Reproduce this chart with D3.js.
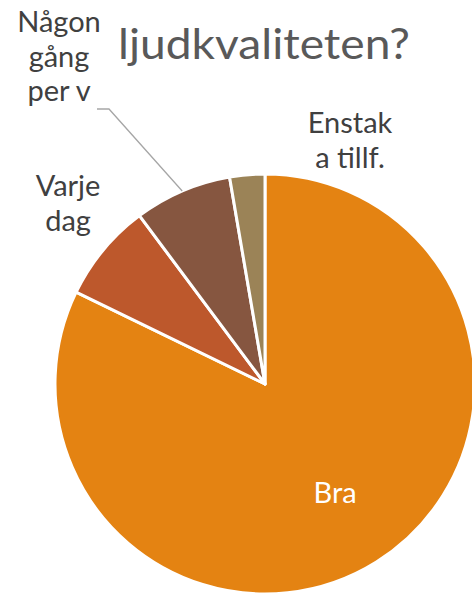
<!DOCTYPE html>
<html>
<head>
<meta charset="utf-8">
<script src="https://cdn.jsdelivr.net/npm/d3@7"></script>
<style>
  html, body { margin: 0; padding: 0; background: #fff; }
  svg { display: block; }
</style>
</head>
<body>
<svg id="chart" width="472" height="596"></svg>
<script>
// ---- data ----
const categories = ["Bra", "Varje dag", "Någon gång per v", "Enstaka a tillf."];
const values = [82.2, 7.6, 7.5, 2.7];
const labelLines = [["Bra"], ["Varje", "dag"], ["Någon", "gång", "per v"], ["Enstak", "a tillf."]];
const colors = ["#E48312", "#BD582C", "#865640", "#9B8357"];
const titleText = "ljudkvaliteten?";

// ---- layout ----
const W = 472, H = 596;
const cx = 265, cy = 384, R = 210;
const font = "Lato, 'Open Sans', sans-serif";
const fontSize = 29;
const lineH = 34.5;

const svg = d3.select("#chart");

// title
svg.append("text")
  .attr("x", 118).attr("y", 59)
  .attr("font-family", font)
  .attr("font-size", 43)
  .attr("fill", "#595959")
  .attr("textLength", 292)
  .attr("lengthAdjust", "spacingAndGlyphs")
  .text(titleText);

const data = categories.map((c, i) => ({ name: c, value: values[i], lines: labelLines[i], color: colors[i] }));
const pie = d3.pie().sort(null).value(d => d.value).startAngle(0).endAngle(2 * Math.PI);
const arcs = pie(data);
const arc = d3.arc().innerRadius(0).outerRadius(R);

const g = svg.append("g").attr("transform", `translate(${cx},${cy})`);
g.selectAll("path.slice").data(arcs).enter().append("path")
  .attr("class", "slice")
  .attr("d", arc)
  .attr("fill", d => d.data.color)
  .attr("stroke", "#fff")
  .attr("stroke-width", 3)
  .attr("stroke-linejoin", "round");

// inside label (Bra)
const innerArc = d3.arc().innerRadius(R * 0.62).outerRadius(R * 0.62);
const braC = innerArc.centroid(arcs[0]);
g.append("text")
  .attr("x", braC[0] + 1).attr("y", braC[1] + 9)
  .attr("text-anchor", "middle")
  .attr("font-family", font)
  .attr("font-size", fontSize)
  .attr("fill", "#ffffff")
  .text(arcs[0].data.lines[0]);

// outside labels: block centre (relative to pie centre) and first baseline
const outside = [
  { i: 1, x: 68 - cx, y: 196 - cy },
  { i: 2, x: 59 - cx, y: 32 - cy },
  { i: 3, x: 350 - cx, y: 133 - cy }
];
outside.forEach(o => {
  const t = g.append("text")
    .attr("text-anchor", "middle")
    .attr("font-family", font)
    .attr("font-size", fontSize)
    .attr("fill", "#404040");
  arcs[o.i].data.lines.forEach((ln, k) => {
    t.append("tspan").attr("x", o.x).attr("y", o.y + k * lineH).text(ln);
  });
});

// leader line for "Någon gång per v"
const a2 = arcs[2];
const mid = (a2.startAngle + a2.endAngle) / 2;
const px = R * Math.sin(mid), py = -R * Math.cos(mid);
const lx = 97 - cx, ly = 109 - cy;
g.append("polyline")
  .attr("points", `${lx},${ly} ${lx + 12},${ly} ${px},${py}`)
  .attr("fill", "none")
  .attr("stroke", "#A6A6A6")
  .attr("stroke-width", 1.3);
</script>
</body>
</html>
